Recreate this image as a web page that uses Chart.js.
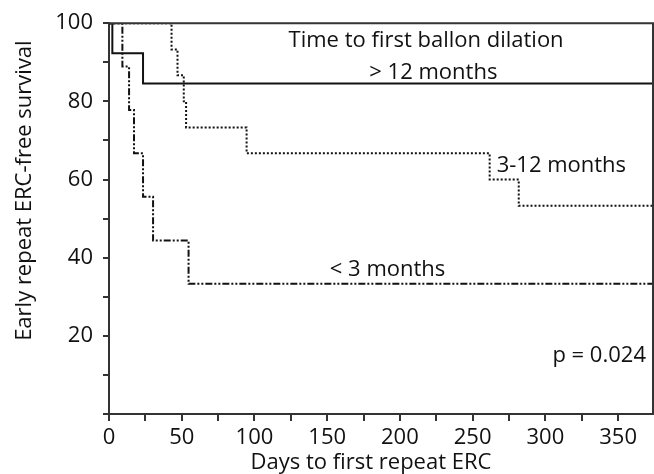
<!DOCTYPE html>
<html>
<head>
<meta charset="utf-8">
<script src="https://cdn.jsdelivr.net/npm/chart.js@4"></script>
<style>
  html, body { margin: 0; padding: 0; background: #fff; }
  #wrap { width: 654px; height: 474px; }
</style>
</head>
<body>
<div id="wrap"><canvas id="kmChart" width="654" height="474"></canvas></div>
<script>
// Kaplan-Meier curves (days, % free of repeat ERC)
const over12Days = [0, 2.3, 23.4, 374];
const over12Surv = [100, 92.3, 84.6, 84.6];

const mid312Days = [0, 43, 47.1, 51.4, 53, 94.6, 261.7, 281.7, 374];
const mid312Surv = [100, 93.3, 86.7, 80, 73.3, 66.7, 60, 53.3, 53.3];

const under3Days = [0, 9.2, 13.8, 17.2, 23.4, 30.3, 54.7, 374];
const under3Surv = [100, 88.9, 77.8, 66.7, 55.6, 44.4, 33.3, 33.3];

const xTickLabels = [0, 50, 100, 150, 200, 250, 300, 350];
const yTickLabels = [20, 40, 60, 80, 100];

// texts in the plot, placed in data units
const notes = [
    { text: 'Time to first ballon dilation', day: 218, surv: 93.8 },
    { text: '> 12 months', day: 223, surv: 85.8 },
    { text: '3-12 months', day: 311, surv: 61.8 },
    { text: '< 3 months', day: 191.5, surv: 35.4 },
    { text: 'p = 0.024', day: 337, surv: 13.4 }
];

const FONT = "'Open Sans', 'Noto Sans', sans-serif";
const INK = '#111';
const AXIS = '#333';

function toPoints(days, surv) {
    return days.map((d, i) => ({ x: d, y: surv[i] }));
}

// frame, axis titles and in-plot text
const decorPlugin = {
    id: 'decor',
    afterDatasetsDraw(chart) {
        const ctx = chart.ctx;
        const area = chart.chartArea;
        const xs = chart.scales.x;
        const ys = chart.scales.y;

        ctx.save();
        ctx.strokeStyle = AXIS;
        ctx.lineWidth = 2;
        ctx.beginPath();
        ctx.moveTo(area.left, area.top);
        ctx.lineTo(area.right, area.top);
        ctx.lineTo(area.right, area.bottom);
        ctx.stroke();

        ctx.fillStyle = INK;
        ctx.font = '22px ' + FONT;
        ctx.textAlign = 'center';
        ctx.textBaseline = 'alphabetic';
        notes.forEach(n => {
            ctx.fillText(n.text, xs.getPixelForValue(n.day), ys.getPixelForValue(n.surv));
        });

        // x title
        ctx.fillText('Days to first repeat ERC', (area.left + area.right) / 2 - 10, 469);

        // y title
        ctx.translate(31, (area.top + area.bottom) / 2 - 28);
        ctx.rotate(-Math.PI / 2);
        ctx.fillText('Early repeat ERC-free survival', 0, 0);
        ctx.restore();
    }
};

const lineBase = {
    borderColor: INK,
    borderWidth: 2,
    pointRadius: 0,
    stepped: true,
    fill: false
};

new Chart(document.getElementById('kmChart'), {
    type: 'line',
    data: {
        datasets: [
            Object.assign({}, lineBase, {
                label: '< 3 months',
                data: toPoints(under3Days, under3Surv),
                borderDash: [7, 2, 2, 2, 2, 2]
            }),
            Object.assign({}, lineBase, {
                label: '3-12 months',
                data: toPoints(mid312Days, mid312Surv),
                borderDash: [2, 2]
            }),
            Object.assign({}, lineBase, {
                label: '> 12 months',
                data: toPoints(over12Days, over12Surv)
            })
        ]
    },
    options: {
        responsive: false,
        animation: false,
        events: [],
        layout: { padding: { left: 0, top: 20, right: 1, bottom: 0 } },
        plugins: {
            legend: { display: false },
            tooltip: { enabled: false }
        },
        scales: {
            x: {
                type: 'linear',
                min: 0,
                max: 374,
                afterFit: s => { s.height = 60; },
                border: { display: true, color: AXIS, width: 2 },
                grid: { drawOnChartArea: false, color: AXIS, lineWidth: 2, tickLength: 7 },
                ticks: {
                    stepSize: 25,
                    includeBounds: false,
                    autoSkip: false,
                    maxRotation: 0,
                    padding: 4,
                    color: INK,
                    font: { family: FONT, size: 22 },
                    callback: v => xTickLabels.includes(v) ? String(v) : ''
                }
            },
            y: {
                min: 0,
                max: 100,
                afterFit: s => { s.width = 109; },
                border: { display: true, color: AXIS, width: 2 },
                grid: { drawOnChartArea: false, color: AXIS, lineWidth: 2, tickLength: 6 },
                ticks: {
                    stepSize: 10,
                    autoSkip: false,
                    padding: 10,
                    color: INK,
                    font: { family: FONT, size: 22 },
                    callback: v => yTickLabels.includes(v) ? String(v) : ''
                }
            }
        }
    },
    plugins: [decorPlugin]
});
</script>
</body>
</html>
